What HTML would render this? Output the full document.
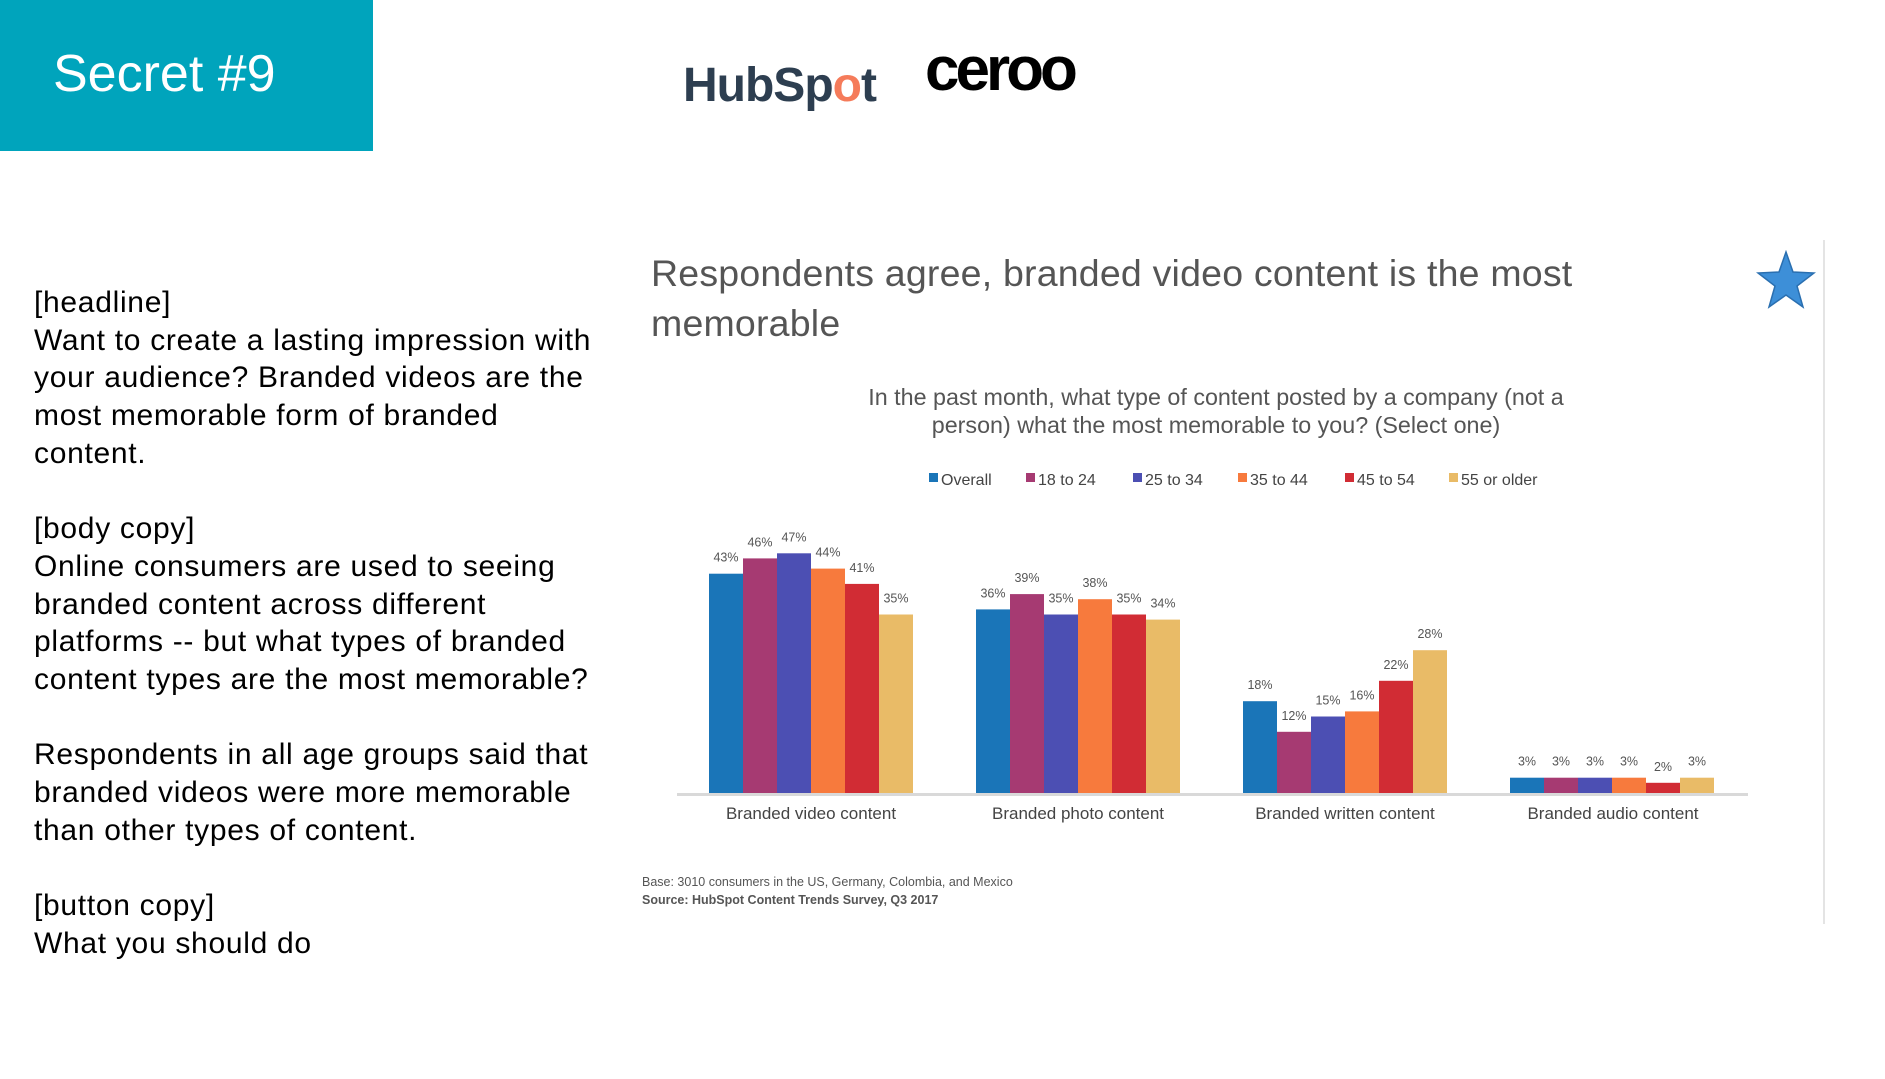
<!DOCTYPE html>
<html><head><meta charset="utf-8"><style>
body{margin:0;width:1885px;height:1079px;background:#fff;position:relative;overflow:hidden;font-family:"Liberation Sans",sans-serif;}
.box{position:absolute;left:0;top:0;width:373px;height:151px;background:#00a4bc;}
.box span{position:absolute;left:53px;top:44px;font-size:52px;color:#fff;}
.left{position:absolute;left:34px;top:284px;font-size:30px;line-height:37.7px;color:#000;letter-spacing:0.7px;}
.left p{margin:0 0 37.7px 0;}
.title{position:absolute;left:651px;top:248px;font-size:37.5px;line-height:50px;color:#555;letter-spacing:0.2px;}
.sub{position:absolute;left:816px;width:800px;top:383px;text-align:center;font-size:23.3px;line-height:28px;color:#555;}
.foot{position:absolute;left:642px;top:873px;font-size:12.5px;line-height:18px;color:#555;}
.vl{position:absolute;left:1823px;top:240px;width:2px;height:684px;background:#e4e4e4;}
</style></head><body>
<div class="box"><span>Secret #9</span></div>
<div style="position:absolute;left:683px;top:58px;font-size:48px;font-weight:bold;color:#2d3e50;letter-spacing:-1px">HubSp<span style="color:#f57b5a">o</span>t</div>
<div style="position:absolute;left:925px;top:34px;font-size:62px;font-weight:bold;color:#000;letter-spacing:-4px">ceroo</div>
<div class="left">
<p>[headline]<br>Want to create a lasting impression with<br>your audience? Branded videos are the<br>most memorable form of branded<br>content.</p>
<p>[body copy]<br>Online consumers are used to seeing<br>branded content across different<br>platforms -- but what types of branded<br>content types are the most memorable?</p>
<p>Respondents in all age groups said that<br>branded videos were more memorable<br>than other types of content.</p>
<p>[button copy]<br>What you should do</p>
</div>
<div class="title">Respondents agree, branded video content is the most<br>memorable</div>
<div class="sub">In the past month, what type of content posted by a company (not a<br>person) what the most memorable to you? (Select one)</div>
<div class="foot">Base: 3010 consumers in the US, Germany, Colombia, and Mexico<br><b>Source: HubSpot Content Trends Survey, Q3 2017</b></div>
<div class="vl"></div>
<svg style="position:absolute;left:1756px;top:250px" width="60" height="60" viewBox="0 0 60 60"><polygon points="30,2 37,22 58,23 41,36 47,57 30,45 13,57 19,36 2,23 23,22" fill="#3d8fd8" stroke="#2a6fb0" stroke-width="1.5"/></svg>
<svg style="position:absolute;left:0;top:0" width="1885" height="1079" font-family="Liberation Sans, sans-serif">
<g font-size="16" fill="#444">
<rect x="929" y="473" width="9" height="9" fill="#1a75b8"/><text x="941" y="485">Overall</text>
<rect x="1026" y="473" width="9" height="9" fill="#a63a72"/><text x="1038" y="485">18 to 24</text>
<rect x="1133" y="473" width="9" height="9" fill="#4c4fb3"/><text x="1145" y="485">25 to 34</text>
<rect x="1238" y="473" width="9" height="9" fill="#f77a3d"/><text x="1250" y="485">35 to 44</text>
<rect x="1345" y="473" width="9" height="9" fill="#d12c34"/><text x="1357" y="485">45 to 54</text>
<rect x="1449" y="473" width="9" height="9" fill="#e9bb67"/><text x="1461" y="485">55 or older</text>
</g>
<g id="bars"></g>
<rect x="677" y="793" width="1071" height="3" fill="#d9d9d9"/>
<g font-size="17" fill="#444" text-anchor="middle">
<text x="811" y="819">Branded video content</text>
<text x="1078" y="819">Branded photo content</text>
<text x="1345" y="819">Branded written content</text>
<text x="1613" y="819">Branded audio content</text>
</g>
</svg>
<script>
var d=[[43,46,47,44,41,35],[36,39,35,38,35,34],[18,12,15,16,22,28],[3,3,3,3,2,3]];
var c=["#1a75b8","#a63a72","#4c4fb3","#f77a3d","#d12c34","#e9bb67"];
var g=document.getElementById('bars'),s='';
for(var i=0;i<4;i++)for(var j=0;j<6;j++){var x=709+i*267+j*34,h=d[i][j]*5.1,y=793-h;
s+='<rect x="'+x+'" y="'+y+'" width="34" height="'+h+'" fill="'+c[j]+'"/>';
s+='<text x="'+(x+17)+'" y="'+(y-12)+'" font-size="12.5" fill="#555" text-anchor="middle">'+d[i][j]+'%</text>';}
g.innerHTML=s;
</script>
</body></html>
